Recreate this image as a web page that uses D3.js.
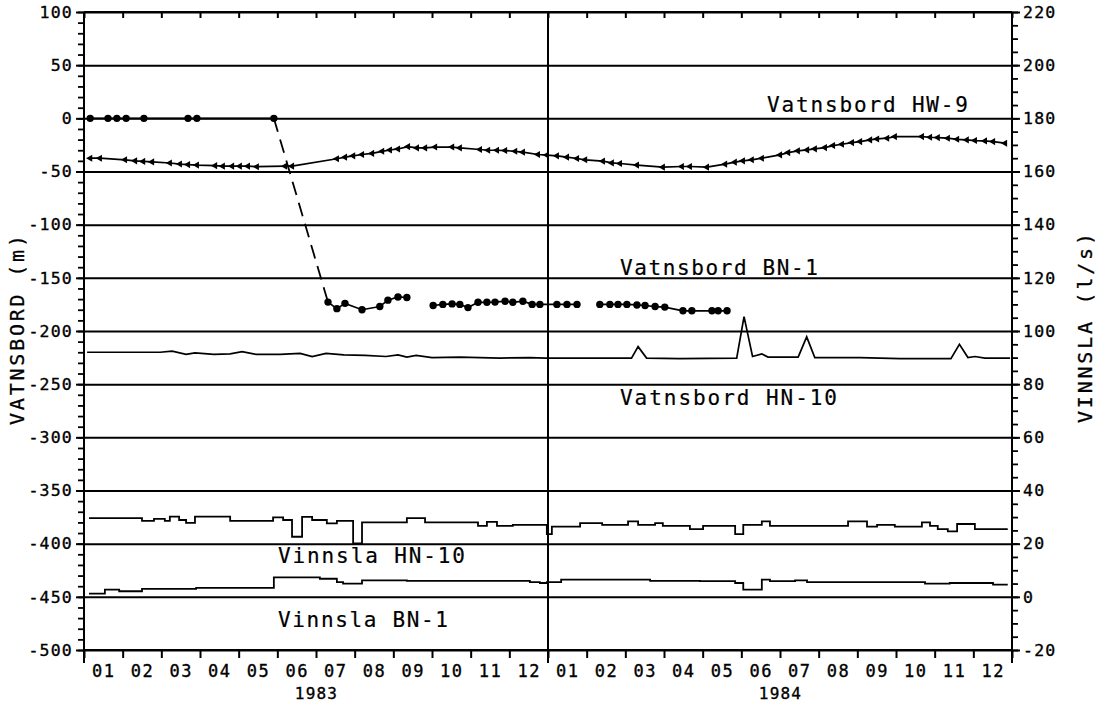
<!DOCTYPE html>
<html><head><meta charset="utf-8">
<script src="https://cdn.jsdelivr.net/npm/d3@7"></script>
<style>
body{margin:0;background:#fff}
svg{display:block}
text{font-family:"DejaVu Sans Mono","Liberation Mono",monospace;fill:#000}
</style>
</head><body>
<svg id="chart" width="1099" height="711"></svg>
<script>
// ---------- DATA ----------
const monthLabels = ["01","02","03","04","05","06","07","08","09","10","11","12"];
const yearLabels = ["1983","1984"];
const leftMajorTicks = d3.range(-500, 101, 50);
const leftMinorTicks = d3.range(-500, 101, 10);
const rightMajorTicks = d3.range(-20, 221, 20);
const rightMinorTicks = d3.range(-20, 221, 5);

// x values are months since 1 Jan 1983 (0..24)
// Vatnsbord HW-9 (m)
const hw9Month = [0.16,0.41,1.06,1.32,1.53,1.76,2.22,2.48,2.69,2.92,3.39,3.59,3.83,4.03,4.24,4.47,5.20,5.38,
  6.54,6.75,6.96,7.19,7.45,7.71,7.91,8.12,8.38,8.61,8.82,9.08,9.52,9.72,10.24,10.45,10.68,10.89,11.15,11.35,11.74,11.97,
  12.23,12.49,12.75,12.96,13.42,13.65,13.86,14.30,14.97,15.46,15.67,16.11,16.58,16.83,17.04,17.27,17.53,18.00,18.21,18.46,
  18.70,18.90,19.16,19.37,19.60,19.86,20.07,20.33,20.51,20.77,20.97,21.67,21.88,22.08,22.34,22.58,22.83,23.04,23.30,23.51,23.82];
const hw9Value = [-37.5,-37.5,-39,-40,-40.5,-41,-42,-43,-43.5,-44,-44.5,-45,-45,-45,-45,-45.5,-45,-45,
  -38,-36.5,-35.3,-34,-33,-31,-29.8,-28.8,-26.6,-27.8,-27.8,-27,-27,-27.8,-29.3,-30,-30,-30.3,-31,-31.8,-34,-34.6,
  -35.3,-36.5,-37.8,-39,-40.3,-41.9,-42.5,-44,-45.9,-45.3,-45.3,-45.9,-43.1,-41.2,-40,-39,-37.5,-34.4,-32.2,-30.6,
  -29.7,-28.7,-27.5,-25.6,-24.4,-22.8,-21.9,-20.3,-19.4,-18.7,-17.2,-17.2,-17.8,-18.1,-18.7,-19.7,-20.3,-20.9,-21.2,-21.9,-23.4];

// Vatnsbord BN-1 (m); null = gap in record
const bn1Month = [0.16,0.62,0.85,1.09,1.55,2.69,2.92,4.91, null,
  6.31,6.54,6.75,7.19,7.65,7.86,8.12,8.35, null,
  9.03,9.28,9.52,9.72,9.93,10.19,10.42,10.63,10.89,11.09,11.35,11.59,11.79,12.23,12.49,12.75, null,
  13.34,13.60,13.81,14.04,14.30,14.51,14.77,15.02,15.49,15.72,16.24,16.40,16.63];
const bn1Value = [0,0,0,0,0,0,0,0, null,
  -172.8,-179,-174,-180,-177,-171,-168,-168.5, null,
  -176,-175,-174.5,-175,-178,-173,-173,-172.8,-172,-173,-172,-175,-175,-175,-175,-175, null,
  -175,-175,-175,-175,-175.5,-176,-177,-177.5,-181,-181,-181,-181,-181];
// dashed connection between the two BN-1 levels (indices into the BN-1 arrays)
const bn1DashFrom = 7, bn1DashTo = 9;

// Vatnsbord HN-10 (m)
const hn10Month = [0.08,1.19,1.97,2.28,2.64,2.87,3.36,3.78,4.09,4.45,5.07,5.59,5.90,6.26,6.72,7.27,7.81,8.12,8.35,8.59,9.00,
  9.72,10.24,10.76,11.53,11.95,12.83,13.60,14.16,14.33,14.55,15.41,16.88,17.07,17.29,17.53,17.69,18.47,18.69,18.90,
  20.07,21.10,22.42,22.64,22.86,23.04,23.30,23.95];
const hn10Value = [-220,-220,-220,-219,-222,-220.5,-222,-221.5,-219.5,-222,-222,-221,-224,-221,-222.5,-223,-224,-222.5,-224.5,-223,-225,
  -224.5,-225,-225.5,-225,-225.5,-225.5,-225.5,-225.5,-214.7,-225.5,-226,-225.5,-186.5,-224,-221.5,-224.5,-224.5,-205.5,-225,
  -225,-226,-226,-212.5,-225,-224,-225.5,-225.5];

// Vinnsla HN-10 (l/s), step starts
const vinHN10Month = [0.13,1.50,1.81,2.09,2.22,2.46,2.64,2.87,3.78,4.89,5.15,5.38,5.64,5.90,6.28,6.54,6.96,7.19,8.35,8.82,
  10.19,10.42,10.68,11.09,11.97,12.10,12.83,13.40,14.07,14.33,14.77,14.97,15.67,16.01,16.84,17.05,17.53,17.74,19.76,20.25,
  20.51,20.97,21.67,21.88,22.08,22.34,22.58,23.04,23.89];
const vinHN10Value = [29.6,28.6,29.3,28.6,30.2,28.9,27.8,30.2,28.6,29.9,28.9,22.6,30.1,28.9,27.6,28.6,20.1,28.0,29.6,28.0,
  26.7,28.2,26.7,27.1,23.6,26.4,27.7,27.1,28.4,27.1,27.7,26.7,25.5,26.7,23.6,27.1,28.4,26.7,28.4,26.4,
  27.1,26.4,28.0,26.7,25.5,24.6,27.4,25.5,25.5];

// Vinnsla BN-1 (l/s), step starts
const vinBN1Month = [0.13,0.54,0.91,1.50,2.90,4.91,6.10,6.54,6.70,7.19,8.35,11.53,11.79,11.97,12.34,14.64,15.93,16.84,17.05,
  17.53,17.74,18.39,18.70,21.75,22.39,23.51,23.89];
const vinBN1Value = [1.2,2.7,2.1,3.0,3.4,7.3,6.8,5.5,5.0,6.2,6.0,5.5,5.2,5.5,6.5,6.0,5.9,5.2,2.7,
  6.5,5.9,6.2,5.5,5.0,5.2,4.6,4.6];

const seriesLabels = ["Vatnsbord HW-9","Vatnsbord BN-1","Vatnsbord HN-10","Vinnsla HN-10","Vinnsla BN-1"];
const leftTitle = "VATNSBORD (m)";
const rightTitle = "VINNSLA (l/s)";

// ---------- LAYOUT ----------
const L = 84, R = 1012, T = 12, B = 650;
const svg = d3.select("#chart");
const x = d3.scaleLinear().domain([0, 24]).range([L, R]);
const yL = d3.scaleLinear().domain([-500, 100]).range([B, T]);
const yR = d3.scaleLinear().domain([-20, 220]).range([B, T]);
const fmt = d => String(d).replace("\u2212", "-");
const styleTxt = (sel, size, ls) => sel.attr("font-size", size).attr("letter-spacing", ls)
  .attr("font-family", '"DejaVu Sans Mono",monospace').attr("stroke", "#000").attr("stroke-width", 0.35);

// gridlines
svg.append("g").attr("transform", `translate(${L},0)`)
  .call(d3.axisLeft(yL).tickValues(leftMajorTicks).tickSize(-(R - L)).tickFormat(""))
  .call(g => g.select(".domain").remove())
  .call(g => g.selectAll("line").attr("stroke", "#000").attr("stroke-width", 2));

// left axis
svg.append("g").attr("transform", `translate(${L},0)`)
  .call(d3.axisLeft(yL).tickValues(leftMinorTicks).tickSize(6).tickSizeOuter(0).tickFormat(""))
  .call(g => g.selectAll("line").attr("stroke-width", 1.8))
  .call(g => g.select(".domain").remove());
svg.append("g").attr("transform", `translate(${L},0)`)
  .call(d3.axisLeft(yL).tickValues(leftMajorTicks).tickSize(8).tickPadding(3).tickFormat(d => fmt(d)))
  .call(g => g.select(".domain").remove())
  .call(g => g.selectAll("line").attr("stroke-width", 2))
  .call(g => styleTxt(g.selectAll("text"), 16.5, 1.2));

// right axis
svg.append("g").attr("transform", `translate(${R},0)`)
  .call(d3.axisRight(yR).tickValues(rightMinorTicks).tickSize(6).tickFormat(""))
  .call(g => g.selectAll("line").attr("stroke-width", 1.8))
  .call(g => g.select(".domain").remove());
svg.append("g").attr("transform", `translate(${R},0)`)
  .call(d3.axisRight(yR).tickValues(rightMajorTicks).tickSize(8).tickPadding(3).tickFormat(d => fmt(d)))
  .call(g => g.select(".domain").remove())
  .call(g => g.selectAll("line").attr("stroke-width", 2))
  .call(g => styleTxt(g.selectAll("text"), 16.5, 1.2));

// top axis (inward month ticks)
svg.append("g").attr("transform", `translate(0,${T})`)
  .call(d3.axisTop(x).tickValues(d3.range(0, 25)).tickSize(-6).tickFormat(""))
  .call(g => g.select(".domain").remove())
  .call(g => g.selectAll("line").attr("stroke-width", 2));

// bottom axis (outward month ticks)
svg.append("g").attr("transform", `translate(0,${B})`)
  .call(d3.axisBottom(x).tickValues(d3.range(0, 25)).tickSize(8).tickFormat(""))
  .call(g => g.select(".domain").remove())
  .call(g => g.selectAll("line").attr("stroke-width", 2));
// month labels
svg.append("g").attr("transform", `translate(0,${B})`)
  .call(d3.axisBottom(x).tickValues(d3.range(0, 24).map(i => i + 0.5)).tickSize(0).tickPadding(15)
     .tickFormat((d, i) => monthLabels[i % 12]))
  .call(g => g.select(".domain").remove())
  .call(g => styleTxt(g.selectAll("text"), 17, 1.5));
// year labels
svg.append("g").attr("transform", `translate(0,${B})`)
  .call(d3.axisBottom(x).tickValues([6, 18]).tickSize(0).tickPadding(38)
     .tickFormat((d, i) => yearLabels[i]))
  .call(g => g.select(".domain").remove())
  .call(g => styleTxt(g.selectAll("text"), 16, 1.2));

// frame & year divider
const frame = svg.append("g").attr("stroke", "#000").attr("stroke-width", 2);
frame.append("line").attr("x1", L).attr("x2", R).attr("y1", T).attr("y2", T);
frame.append("line").attr("x1", L).attr("x2", R).attr("y1", B).attr("y2", B);
[0, 12, 24].forEach(m => frame.append("line").attr("x1", x(m)).attr("x2", x(m)).attr("y1", T).attr("y2", B + 13));

// ---------- SERIES ----------
const lineL = d3.line().defined(d => d[1] != null).x(d => x(d[0])).y(d => yL(d[1]));
const lineR = d3.line().x(d => x(d[0])).y(d => yR(d[1])).curve(d3.curveStepAfter);

// HW-9
const hw9 = hw9Month.map((m, i) => [m, hw9Value[i]]);
svg.append("path").datum(hw9).attr("d", lineL).attr("fill", "none").attr("stroke", "#000").attr("stroke-width", 1.7);
svg.append("g").selectAll("path").data(hw9).join("path")
  .attr("d", d3.symbol(d3.symbolTriangle, 22))
  .attr("transform", d => `translate(${x(d[0])},${yL(d[1])}) rotate(-90)`)
  .attr("fill", "#000");

// BN-1
const bn1 = bn1Month.map((m, i) => [m, bn1Value[i]]);
svg.append("path").datum(bn1).attr("d", lineL).attr("fill", "none").attr("stroke", "#000").attr("stroke-width", 1.7);
svg.append("path").datum([bn1[bn1DashFrom], bn1[bn1DashTo]]).attr("d", lineL)
  .attr("fill", "none").attr("stroke", "#000").attr("stroke-width", 1.8).attr("stroke-dasharray", "14,8");
svg.append("g").selectAll("circle").data(bn1.filter(d => d[1] != null)).join("circle")
  .attr("cx", d => x(d[0])).attr("cy", d => yL(d[1])).attr("r", 3.7).attr("fill", "#000");

// HN-10 water level
const hn10 = hn10Month.map((m, i) => [m, hn10Value[i]]);
svg.append("path").datum(hn10).attr("d", lineL).attr("fill", "none").attr("stroke", "#000").attr("stroke-width", 1.7);

// Vinnsla (right axis), stepped
[[vinHN10Month, vinHN10Value], [vinBN1Month, vinBN1Value]].forEach(([ms, vs]) => {
  const pts = ms.map((m, i) => [m, vs[i]]);
  svg.append("path").datum(pts).attr("d", lineR).attr("fill", "none").attr("stroke", "#000").attr("stroke-width", 1.8);
});

// ---------- TEXT ----------
const labelPos = [
  {x: 767, y: 112, w: 201},
  {x: 620, y: 275, w: 198},
  {x: 620, y: 405, w: 217},
  {x: 278, y: 563, w: 187},
  {x: 278, y: 627, w: 170}
];
seriesLabels.forEach((t, i) => {
  const p = labelPos[i];
  svg.append("text").attr("x", p.x).attr("y", p.y).attr("font-size", 21)
    .attr("stroke", "#000").attr("stroke-width", 0.2)
    .attr("textLength", p.w).attr("lengthAdjust", "spacing").text(t);
});

svg.append("text").attr("transform", "translate(24,330) rotate(-90)").attr("text-anchor", "middle")
  .attr("font-size", 20).attr("stroke", "#000").attr("stroke-width", 0.3)
  .attr("textLength", 190).attr("lengthAdjust", "spacing").text(leftTitle);
svg.append("text").attr("transform", "translate(1092,328) rotate(-90)").attr("text-anchor", "middle")
  .attr("font-size", 20).attr("stroke", "#000").attr("stroke-width", 0.3)
  .attr("textLength", 190).attr("lengthAdjust", "spacing").text(rightTitle);
</script>
</body></html>
